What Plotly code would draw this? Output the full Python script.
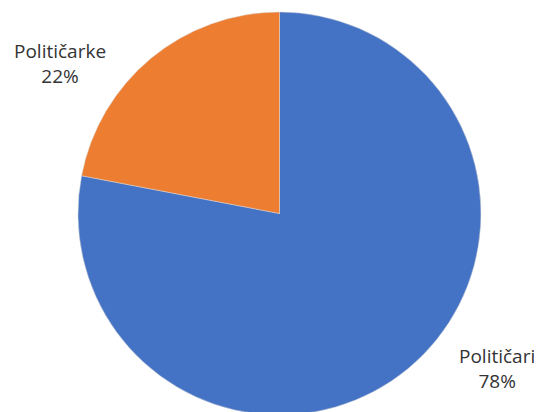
import plotly.graph_objects as go

labels = ["Političari", "Političarke"]
values = [78, 22]
colors = ["#4472C4", "#ED7D31"]
# label anchor positions (screen pixels in the 542x412 window)
label_px = [(497, 368), (60, 64)]

OFF = 8  # default page body margin
W, H = 542 - OFF, 412 - OFF + 4
cx, cy, r = 279.5 - OFF, 213.5 - OFF, 201.5
y0 = max(0.0, 1 - (cy + r) / H)
y1 = min(1.0, 1 - (cy - r) / H)
fig = go.Figure(go.Pie(
    labels=labels, values=values, sort=False, direction="clockwise", rotation=0,
    marker=dict(colors=colors, line=dict(color="#d9d9d9", width=0.5)),
    textinfo="none", hoverinfo="label+percent", showlegend=False,
    domain=dict(x=[(cx - r) / W, (cx + r) / W], y=[y0, y1]),
))

total = sum(values)
for lab, v, (px, py) in zip(labels, values, label_px):
    fig.add_annotation(
        x=(px - OFF) / W, y=1 - (py - OFF) / H, xref="paper", yref="paper",
        text=f"{lab}<br>{round(100 * v / total)}%", showarrow=False,
        font=dict(family="Open Sans", size=19, color="#333333"),
        xanchor="center", yanchor="middle", align="center",
    )

fig.update_layout(width=W, height=H, margin=dict(l=0, r=0, t=0, b=0),
                  paper_bgcolor="white", plot_bgcolor="white")
fig.write_html("out.html")
